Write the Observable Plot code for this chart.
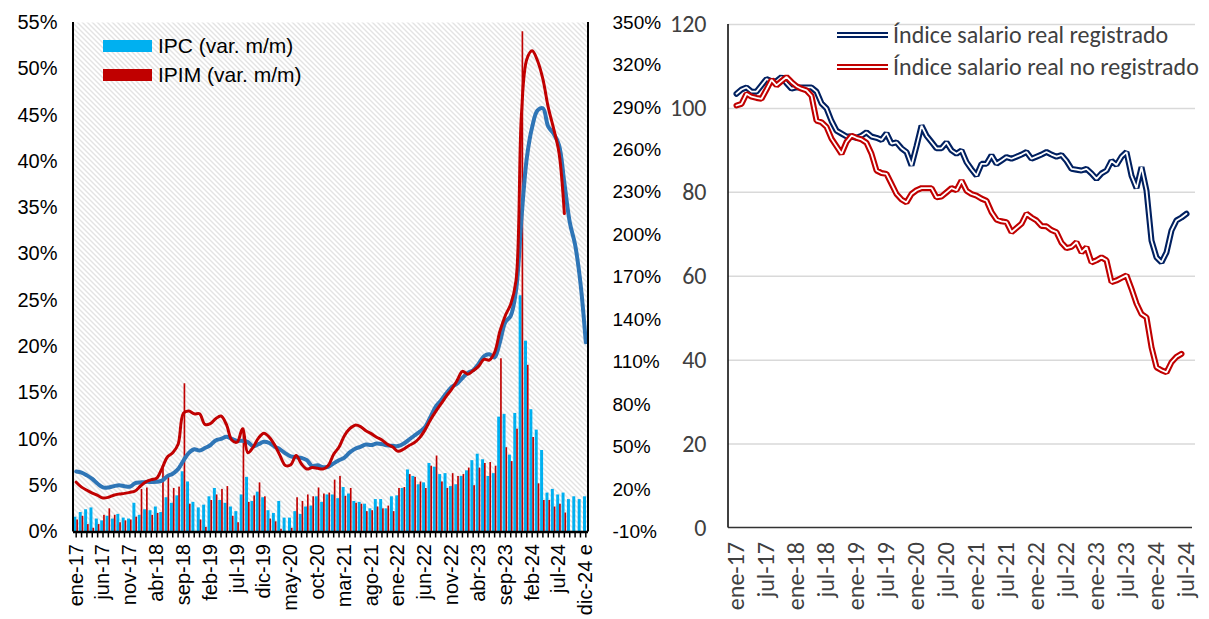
<!DOCTYPE html>
<html><head><meta charset="utf-8">
<script src="https://cdn.jsdelivr.net/npm/d3@7"></script>
<script src="https://cdn.jsdelivr.net/npm/@observablehq/plot@0.6"></script>
<style>
html,body{margin:0;padding:0;background:#fff;}
#wrap{position:relative;width:1209px;height:619px;overflow:hidden;background:#fff;}
#left,#right{position:absolute;top:0;}
#left{left:0;} #right{left:668px;}
</style></head><body>
<div id="wrap"><div id="left"></div><div id="right"></div></div>
<script>
// ---------- Data: left chart (monthly, ene-17 .. dic-24 e) ----------
const monthNames = ["ene","feb","mar","abr","may","jun","jul","ago","sep","oct","nov","dic"];
const leftMonths = [];
for (let y = 17; y <= 24; y++) for (const m of monthNames) leftMonths.push(`${m}-${y}`);
leftMonths[leftMonths.length - 1] = "dic-24 e";

const leftTickLabels = ["ene-17","jun-17","nov-17","abr-18","sep-18","feb-19","jul-19","dic-19","may-20","oct-20","mar-21","ago-21","ene-22","jun-22","nov-22","abr-23","sep-23","feb-24","jul-24","dic-24 e"];
const leftYTicks = [0,5,10,15,20,25,30,35,40,45,50,55];
const rightYTicks = [-10,20,50,80,110,140,170,200,230,260,290,320,350];

// IPC var. m/m (%)
const ipcMoM = [
  1.6,2.1,2.4,2.6,1.4,1.2,1.7,1.4,1.9,1.5,1.4,3.1,
  1.8,2.4,2.3,2.7,2.1,3.7,3.1,3.9,6.5,5.4,3.2,2.6,
  2.9,3.8,4.7,3.4,3.1,2.7,2.2,4.0,5.9,3.3,4.3,3.7,
  2.3,2.0,3.3,1.5,1.5,2.2,1.9,2.7,2.8,3.8,3.2,4.0,
  4.0,3.6,4.8,4.1,3.3,3.2,3.0,2.5,3.5,3.5,2.5,3.8,
  3.9,4.7,6.7,6.0,5.1,5.3,7.4,7.0,6.2,6.3,4.9,5.1,
  6.0,6.6,7.7,8.4,7.8,6.0,6.3,12.4,12.7,8.3,12.8,25.5,
  20.6,13.2,11.0,8.8,4.2,4.6,4.0,4.2,3.5,3.8,3.5,3.8
];
// IPIM var. m/m (%)
const ipimMoM = [
  1.3,1.7,0.8,0.4,0.8,1.8,2.5,1.8,1.0,1.2,1.3,1.6,
  4.6,4.75,1.8,2.0,7.2,6.1,4.7,4.85,16.0,3.0,null,1.3,
  0.5,3.4,4.0,4.6,4.9,1.7,1.0,11.2,3.2,3.9,5.3,3.8,
  1.4,1.1,0.3,null,0.4,3.7,3.3,4.0,3.8,4.75,4.1,4.2,
  5.6,6.0,3.85,4.7,3.1,3.0,2.2,2.3,2.7,2.5,2.8,2.2,
  4.7,4.8,6.2,5.9,5.4,4.7,7.1,8.2,5.4,4.7,6.3,6.0,
  6.2,6.9,5.0,6.9,7.4,7.5,7.1,18.7,9.1,7.6,11.1,54.0,
  18.0,10.2,5.2,3.4,3.4,2.7,3.0,2.05,null,null,null,null
];
// IPC var. i.a. (%), right axis
const ipcYoY = [
  32.8,32.0,30.0,27.5,24.1,21.5,21.5,22.4,23.0,22.4,22.0,24.5,
  25.0,25.4,25.4,25.5,26.3,29.5,31.2,34.4,40.5,45.9,48.5,47.6,
  49.3,51.3,54.7,55.8,57.3,55.8,54.4,54.5,53.5,50.5,52.1,53.8,
  52.9,50.3,48.4,45.6,43.4,42.8,42.4,40.7,36.6,37.2,35.8,36.1,
  38.5,40.7,42.6,46.3,48.8,50.2,51.8,51.4,52.5,52.1,51.2,50.9,
  50.7,52.3,55.1,58.0,60.7,64.0,71.0,78.5,83.0,88.0,92.4,94.8,
  98.8,102.5,104.3,108.8,114.2,115.6,113.4,124.4,138.3,142.7,160.9,211.4,
  254.2,276.2,287.9,289.4,276.4,271.5,263.4,236.7,209.0,193.0,166.0,124.0
];
// IPIM var. i.a. (%), right axis
const ipimYoY = [
  25.2,21.7,19.5,17.5,15.8,14.0,14.5,16.0,16.8,17.3,18.0,19.0,
  22.5,25.5,27.0,28.0,35.0,43.0,46.0,52.0,74.0,75.5,73.5,73.5,
  66.0,66.5,70.0,72.0,66.0,55.0,53.5,63.0,46.0,50.0,56.5,59.8,
  57.0,51.5,44.0,37.0,37.5,44.0,38.0,34.5,35.5,35.0,34.5,37.0,
  45.0,50.0,58.0,63.0,65.5,64.5,61.5,59.5,57.0,55.0,52.0,50.0,
  47.0,48.5,51.0,53.0,56.5,62.0,69.0,75.0,80.5,86.0,91.0,97.0,
  103.5,101.5,104.0,107.0,112.0,111.5,117.0,132.0,143.0,151.0,168.0,285.0,
  324.0,330.0,323.0,310.0,290.0,275.0,258.0,215.0,null,null,null,null
];

// ---------- Data: right chart (monthly, ene-17 .. jul-24) ----------
const rightMonths = leftMonths.slice(0, 91);
const rightTickLabels = ["ene-17","jul-17","ene-18","jul-18","ene-19","jul-19","ene-20","jul-20","ene-21","jul-21","ene-22","jul-22","ene-23","jul-23","ene-24","jul-24"];
const rightYTicksR = [0,20,40,60,80,100,120];
const salarioRegistrado = [
  103.5,104.5,105,104,104,105.5,107,106.5,106.5,107.5,106,104.7,
  105,105,105,105,104,101.2,100,97,94.7,94,93.3,93.3,
  93,93.5,94.3,93.3,93,92.5,94.1,91.6,91.9,90.5,89.6,86.4,
  91,95.9,93.5,92,90.5,90.5,91.9,90,89.2,90,87.2,85.5,
  84,86.8,86.8,88.8,86.8,87.6,88.4,88,88.5,89,89.6,88,
  88.5,89,89.6,89,88.5,88.9,87.5,85.6,85.4,85.2,85.6,84.5,
  83.2,84.5,85.2,87.5,86.5,88.5,89.6,84,81,86,80.4,68.5,
  64.5,63.3,65.7,70.9,73.3,74,74.9
];
const salarioNoRegistrado = [
  100.7,101.1,103.5,102.8,102.5,102.3,104.5,106.8,105.5,106.5,107.5,106.3,
  105.3,104.7,104.3,103,97.1,96.7,95.6,92.8,91,89.2,92,93.5,
  93,92.6,91.8,89.2,85.2,84.6,84.4,82,79.6,78.3,77.6,79.6,
  80.5,81,81,81,78.8,79,80,81,80.5,82.8,80.4,79.6,
  79.2,78.5,78,75.3,73.5,73.1,72.9,70.5,71.5,72.5,74.9,74,
  73.3,72,71.9,71,70.5,68,66.7,67,68.1,65.7,66.9,63.3,
  63.8,64.5,63.8,58.6,59,59.6,60.2,57,53.5,51,50.2,43.1,
  38.3,37.6,37.1,39.5,40.8,41.5
];

// ---------- Left chart ----------
const toLeft = v => (v + 10) * 55 / 360;      // right-axis % -> left-axis units
const fromLeft = u => Math.round(u * 360 / 55 - 10);
const rows = leftMonths.map((m, i) => ({m, ipc: ipcMoM[i], ipim: ipimMoM[i], ipcY: ipcYoY[i], ipimY: ipimYoY[i]}));

const leftPlot = Plot.plot({
  width: 668, height: 619,
  marginTop: 22, marginBottom: 87.5, marginLeft: 73, marginRight: 80,
  style: {fontFamily: "'Liberation Sans', Arial, sans-serif", fontSize: "20px", color: "#000", background: "transparent", overflow: "visible"},
  x: {type: "band", domain: leftMonths, padding: 0, axis: null},
  y: {domain: [0, 55], axis: null},
  marks: [
    Plot.frame({fill: "url(#hatch)", stroke: "none"}),
    Plot.barY(rows, {x: "m", y: "ipc", fill: "#00B0F0", insetLeft: 0.4, insetRight: 2.0}),
    Plot.barY(rows.filter(d => d.ipim != null), {x: "m", y: "ipim", fill: "#C00000", insetLeft: 3.3, insetRight: 0.4}),
    Plot.line(rows, {x: "m", y: d => toLeft(d.ipcY), stroke: "#2E75B6", strokeWidth: 4, curve: "catmull-rom"}),
    Plot.line(rows.filter(d => d.ipimY != null), {x: "m", y: d => toLeft(d.ipimY), stroke: "#C00000", strokeWidth: 3, curve: "catmull-rom"}),
    Plot.ruleY([0], {stroke: "#000", strokeWidth: 2.5}),
    Plot.axisX({tickSize: 6, tickFormat: () => "", stroke: "#000", strokeWidth: 1.5, label: null}),
    Plot.axisX({ticks: leftTickLabels, tickSize: 0, tickPadding: 12, tickRotate: -90, fontSize: 20, label: null}),
    Plot.axisY({ticks: leftYTicks, tickFormat: d => d + "%", tickSize: 0, tickPadding: 16, fontSize: 20, label: null}),
    Plot.axisY({anchor: "right", ticks: rightYTicks.map(toLeft), tickFormat: d => fromLeft(d) + "%", tickSize: 0, tickPadding: 24, fontSize: 19, label: null})
  ]
});
document.getElementById("left").appendChild(leftPlot);
{
  const svg = d3.select(leftPlot);
  const defs = svg.insert("defs", ":first-child");
  const pat = defs.append("pattern").attr("id", "hatch").attr("patternUnits", "userSpaceOnUse").attr("width", 5).attr("height", 5);
  pat.append("rect").attr("width", 5).attr("height", 5).attr("fill", "#fff");
  pat.append("path").attr("d", "M0,0L5,5M-1,4L1,6M4,-1L6,1").attr("stroke", "#c6c6c6").attr("stroke-width", 1);
  const [x0, x1] = leftPlot.scale("x").range;
  const [yb, yt] = leftPlot.scale("y").range;
  const g = svg.append("g");
  g.append("line").attr("x1", x0).attr("x2", x0).attr("y1", yt).attr("y2", yb).attr("stroke", "#000").attr("stroke-width", 2);
  g.append("line").attr("x1", x1).attr("x2", x1).attr("y1", yt).attr("y2", yb).attr("stroke", "#000").attr("stroke-width", 2);
  // legend
  const lg = svg.append("g").attr("font-family", "'Liberation Sans', Arial, sans-serif").attr("font-size", 21).attr("text-anchor", "start");
  [["IPC (var. m/m)", "#00B0F0", 46], ["IPIM (var. m/m)", "#C00000", 75]].forEach(([t, c, y]) => {
    lg.append("rect").attr("x", 103).attr("y", y - 6).attr("width", 49).attr("height", 12).attr("fill", c);
    lg.append("text").attr("x", 158).attr("y", y).attr("dy", "0.35em").attr("fill", "#000").text(t);
  });
}

// ---------- Right chart ----------
const regRows = salarioRegistrado.map((v, i) => ({m: rightMonths[i], v}));
const noRegRows = salarioNoRegistrado.map((v, i) => ({m: rightMonths[i], v}));
const rFont = "Carlito, Calibri, Lato, sans-serif";
const rightPlot = Plot.plot({
  width: 541, height: 619,
  marginTop: 24, marginBottom: 91.5, marginLeft: 60, marginRight: 14,
  style: {fontFamily: rFont, fontSize: "24px", color: "#404040", background: "transparent", overflow: "visible"},
  x: {type: "point", domain: rightMonths, range: [62, 524.6], axis: null},
  y: {domain: [0, 120], axis: null},
  marks: [
    Plot.ruleY(rightYTicksR.filter(d => d > 0), {stroke: "#d9d9d9", strokeWidth: 1.5}),
    Plot.line(regRows, {x: "m", y: "v", stroke: "#002060", strokeWidth: 6, strokeLinejoin: "miter"}),
    Plot.line(regRows, {x: "m", y: "v", stroke: "#fff", strokeWidth: 1.8, strokeLinejoin: "miter"}),
    Plot.line(noRegRows, {x: "m", y: "v", stroke: "#C00000", strokeWidth: 6, strokeLinejoin: "miter"}),
    Plot.line(noRegRows, {x: "m", y: "v", stroke: "#fff", strokeWidth: 1.8, strokeLinejoin: "miter"}),
    Plot.axisX({ticks: rightTickLabels, tickSize: 0, tickPadding: 14, tickRotate: -90, fontSize: 24, label: null}),
    Plot.axisY({ticks: rightYTicksR, tickSize: 0, tickPadding: 22, fontSize: 24, label: null})
  ]
});
document.getElementById("right").appendChild(rightPlot);
{
  const svg = d3.select(rightPlot);
  const g = svg.append("g");
  g.append("line").attr("x1", 60).attr("x2", 60).attr("y1", 24).attr("y2", 527.5).attr("stroke", "#000").attr("stroke-width", 1.5);
  g.append("line").attr("x1", 60).attr("x2", 524).attr("y1", 527.5).attr("y2", 527.5).attr("stroke", "#333").attr("stroke-width", 1.5);
  const lg = svg.append("g").attr("font-family", rFont).attr("font-size", 24).attr("text-anchor", "start");
  [["Índice salario real registrado", "#002060", 35], ["Índice salario real no registrado", "#C00000", 67]].forEach(([t, c, y]) => {
    lg.append("line").attr("x1", 169).attr("x2", 220).attr("y1", y).attr("y2", y).attr("stroke", c).attr("stroke-width", 6);
    lg.append("line").attr("x1", 169).attr("x2", 220).attr("y1", y).attr("y2", y).attr("stroke", "#fff").attr("stroke-width", 1.8);
    lg.append("text").attr("x", 225).attr("y", y).attr("dy", "0.35em").attr("fill", "#404040").text(t);
  });
}
</script>
</body></html>
